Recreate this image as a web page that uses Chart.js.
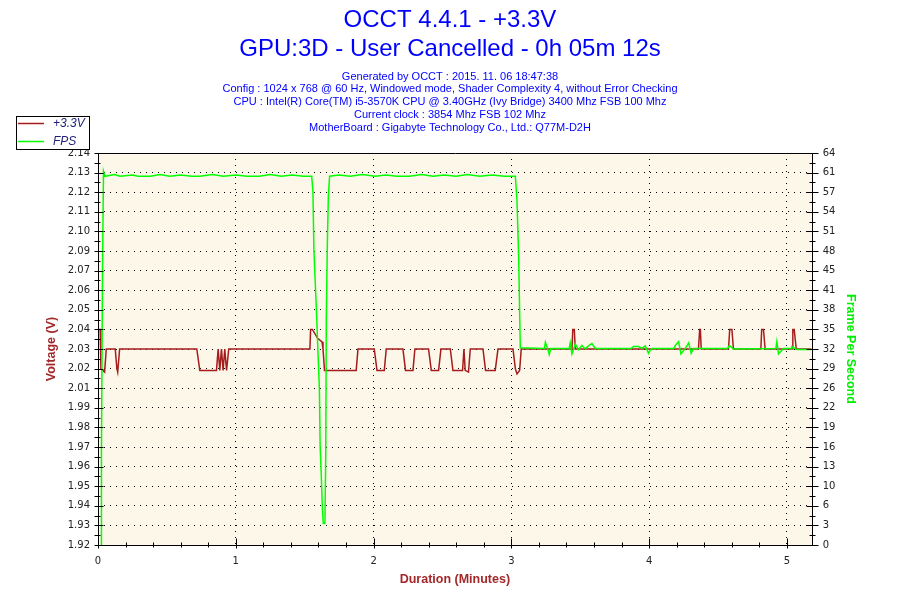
<!DOCTYPE html>
<html>
<head>
<meta charset="utf-8">
<title>OCCT 4.4.1 - +3.3V</title>
<script src="https://cdn.jsdelivr.net/npm/chart.js@4.4.1/dist/chart.umd.min.js"></script>
<style>
  html, body { margin: 0; padding: 0; background: #ffffff; }
  #wrap { width: 900px; height: 600px; }
</style>
</head>
<body>
<div id="wrap"><canvas id="myChart" width="900" height="600"></canvas></div>
<script>
// ---- chart text ----
var titleLines = ["OCCT 4.4.1 - +3.3V", "GPU:3D - User Cancelled - 0h 05m 12s"];
var infoLines = [
    "Generated by OCCT : 2015. 11. 06 18:47:38",
    "Config : 1024 x 768 @ 60 Hz, Windowed mode, Shader Complexity 4, without Error Checking",
    "CPU : Intel(R) Core(TM) i5-3570K CPU @ 3.40GHz (Ivy Bridge) 3400 Mhz FSB 100 Mhz",
    "Current clock : 3854 Mhz FSB 102 Mhz",
    "MotherBoard : Gigabyte Technology Co., Ltd.: Q77M-D2H"
];

// ---- tick labels (as printed by OCCT) ----
var minuteTicks = ["0", "1", "2", "3", "4", "5"];
var voltTicks = ["1.92", "1.93", "1.94", "1.95", "1.96", "1.97", "1.98", "1.99", "2.01", "2.02", "2.03",
                 "2.04", "2.05", "2.06", "2.07", "2.09", "2.10", "2.11", "2.12", "2.13", "2.14"];
var fpsTicks = ["0", "3", "6", "10", "13", "16", "19", "22", "26", "29", "32",
                "35", "38", "41", "45", "48", "51", "54", "57", "61", "64"];

// ---- +3.3V series (minutes / volts) ----
var voltMinutes = [0, 0.016, 0.021, 0.048, 0.060, 0.125, 0.137, 0.143, 0.157, 0.717,
                   0.739, 0.860, 0.872, 0.884, 0.896, 0.908, 0.920, 0.933, 0.949, 1.538,
                   1.543, 1.556, 1.594, 1.626, 1.633, 1.644, 1.874, 1.887, 2.005, 2.025,
                   2.078, 2.092, 2.213, 2.232, 2.286, 2.300, 2.399, 2.419, 2.472, 2.489,
                   2.557, 2.576, 2.646, 2.656, 2.665, 2.689, 2.702, 2.794, 2.813, 2.883,
                   2.903, 3.012, 3.029, 3.041, 3.060, 3.072, 3.440, 3.446, 3.457, 3.464,
                   4.358, 4.367, 4.372, 4.378, 4.576, 4.585, 4.601, 4.612, 4.811, 4.817,
                   4.830, 4.842, 5.038, 5.043, 5.053, 5.068, 5.18];
var voltage = [2.041, 2.041, 2.019, 2.017, 2.03, 2.03, 2.019, 2.017, 2.03, 2.03,
               2.018, 2.018, 2.03, 2.018, 2.03, 2.018, 2.03, 2.018, 2.03, 2.03,
               2.041, 2.041, 2.036, 2.034, 2.03, 2.018, 2.018, 2.03, 2.03, 2.018,
               2.018, 2.03, 2.03, 2.018, 2.018, 2.03, 2.03, 2.018, 2.018, 2.03,
               2.03, 2.018, 2.018, 2.03, 2.018, 2.017, 2.03, 2.03, 2.018, 2.018,
               2.03, 2.03, 2.019, 2.016, 2.018, 2.03, 2.03, 2.041, 2.041, 2.03,
               2.03, 2.041, 2.041, 2.03, 2.03, 2.041, 2.041, 2.03, 2.03, 2.041,
               2.041, 2.03, 2.03, 2.041, 2.041, 2.03, 2.03];

// ---- FPS series (minutes / frames per second) ----
var fpsMinutes = [0.022, 0.025, 0.033, 0.040, 0.050, 0.12, 0.16, 0.25, 0.29, 0.38,
                  0.45, 0.52, 0.60, 0.68, 0.74, 0.83, 0.91, 1.00, 1.08, 1.17,
                  1.25, 1.33, 1.41, 1.49, 1.551, 1.560, 1.567, 1.578, 1.587, 1.596,
                  1.607, 1.612, 1.620, 1.628, 1.635, 1.647, 1.653, 1.657, 1.665, 1.672,
                  1.681, 1.75, 1.83, 1.92, 2.01, 2.09, 2.17, 2.26, 2.35, 2.43,
                  2.51, 2.60, 2.68, 2.77, 2.86, 2.95, 3.029, 3.041, 3.053, 3.065,
                  3.240, 3.247, 3.263, 3.275, 3.287, 3.420, 3.427, 3.440, 3.464, 3.488,
                  3.512, 3.536, 3.560, 3.585, 3.609, 3.870, 3.887, 3.923, 3.948, 3.972,
                  3.996, 4.008, 4.020, 4.180, 4.190, 4.214, 4.231, 4.263, 4.287, 4.305,
                  4.322, 4.570, 4.583, 4.612, 4.920, 4.927, 4.939, 4.964, 4.975, 5.030,
                  5.036, 5.072, 5.18];
var fps = [0, 15, 46, 61, 60.2, 60.5, 60.2, 60.4, 60.2, 60.2,
           60.5, 60.2, 60.4, 60.2, 60.2, 60.5, 60.2, 60.4, 60.2, 60.2,
           60.5, 60.2, 60.4, 60.2, 60.2, 57.7, 48.2, 42.2, 37.3, 31.8,
           25.3, 16.3, 11.8, 6.2, 3.5, 3.5, 15, 37, 49.7, 57,
           60.2, 60.4, 60.2, 60.5, 60.2, 60.4, 60.2, 60.2, 60.5, 60.2,
           60.4, 60.2, 60.5, 60.2, 60.4, 60.2, 60.2, 56.3, 47.1, 32.2,
           32.1, 33.1, 32.1, 31.1, 32.1, 32.1, 33.0, 31.2, 32.8, 31.9,
           32.6, 32.0, 32.5, 32.9, 32.1, 32.1, 32.4, 32.4, 32.1, 32.5,
           31.3, 31.8, 32.1, 32.1, 32.6, 33.2, 31.2, 32.1, 33.0, 31.3,
           32.1, 32.1, 32.6, 32.0, 32.1, 33.2, 31.2, 31.8, 32.1, 32.1,
           32.4, 31.9, 31.9];

var voltColor = "#a41c1c";
var fpsColor = "#00ff00";
var axisRed = "#a3282a";

function toPoints(xs, ys) {
    var pts = [];
    for (var i = 0; i < xs.length; i++) {
        pts.push({ x: xs[i], y: ys[i] });
    }
    return pts;
}

// background, frame, minor ticks and the little legend box
var occtFrame = {
    id: "occtFrame",
    beforeDraw: function(chart) {
        var a = chart.chartArea;
        var ctx = chart.ctx;
        ctx.save();
        ctx.fillStyle = "#fdf7e9";
        ctx.fillRect(a.left, a.top, a.right - a.left, a.bottom - a.top);
        ctx.restore();
    },
    afterDraw: function(chart) {
        var ctx = chart.ctx;
        var a = chart.chartArea;
        var L = Math.round(a.left) + 0.5, R = Math.round(a.right) + 0.5;
        var T = Math.round(a.top) + 0.5, B = Math.round(a.bottom) + 0.5;
        ctx.save();
        ctx.strokeStyle = "#000";
        ctx.lineWidth = 1;
        ctx.beginPath();
        ctx.rect(L, T, R - L, B - T);

        // x ticks: major every minute, minor every 0.2
        var xs = chart.scales.x;
        for (var m = 0; m * 0.2 <= xs.max + 1e-9; m++) {
            var px = Math.round(xs.getPixelForValue(m * 0.2)) + 0.5;
            var major = m % 5 === 0;
            ctx.moveTo(px, B - (major ? 7 : 3));
            ctx.lineTo(px, B + (major ? 3 : 2));
        }
        // left axis, one minor between majors
        var yv = chart.scales.yVolt;
        for (var i = 0; i <= 40; i++) {
            var py = Math.round(yv.getPixelForValue(1.92 + i * 0.0055)) + 0.5;
            var maj = i % 2 === 0;
            ctx.moveTo(L - 4, py);
            ctx.lineTo(L + (maj ? 5 : 2), py);
        }
        // right axis
        var yf = chart.scales.yFps;
        for (var j = 0; j <= 40; j++) {
            var qy = Math.round(yf.getPixelForValue(j * 1.6)) + 0.5;
            var mj = j % 2 === 0;
            ctx.moveTo(R - (mj ? 6 : 3), qy);
            ctx.lineTo(R + (mj ? 6 : 3), qy);
        }
        ctx.stroke();

        // legend
        ctx.fillStyle = "#fff";
        ctx.fillRect(16.5, 116.5, 73, 33);
        ctx.strokeRect(16.5, 116.5, 73, 33);
        ctx.font = "italic 12px 'Liberation Sans'";
        ctx.textBaseline = "middle";
        ctx.lineWidth = 1.5;
        var rows = [123.5, 141.5];
        chart.data.datasets.forEach(function(ds, k) {
            ctx.strokeStyle = ds.borderColor;
            ctx.beginPath();
            ctx.moveTo(18, rows[k]);
            ctx.lineTo(44, rows[k]);
            ctx.stroke();
            ctx.fillStyle = "#1f1f7a";
            ctx.fillText(ds.label, 53, rows[k]);
        });
        ctx.restore();
    }
};

var tickFont = { family: "'DejaVu Sans'", size: 10 };
var axisTitleFont = { family: "'Liberation Sans'", size: 12.5, weight: "bold" };

var ctx = document.getElementById("myChart");
var myChart = new Chart(ctx, {
    type: "line",
    data: {
        datasets: [{
            label: "+3.3V",
            data: toPoints(voltMinutes, voltage),
            yAxisID: "yVolt",
            borderColor: voltColor,
            borderWidth: 1.5,
            pointRadius: 0,
            tension: 0,
            order: 1
        }, {
            label: "FPS",
            data: toPoints(fpsMinutes, fps),
            yAxisID: "yFps",
            borderColor: fpsColor,
            borderWidth: 1.5,
            pointRadius: 0,
            tension: 0,
            order: 0
        }]
    },
    options: {
        responsive: false,
        animation: false,
        layout: { padding: 0, autoPadding: false },
        plugins: {
            legend: { display: false },
            tooltip: { enabled: false },
            title: {
                display: true,
                text: titleLines,
                color: "#0000ff",
                font: { family: "'Liberation Sans'", size: 24, weight: "normal", lineHeight: 1.2 },
                padding: { top: 5.8, bottom: 0 }
            },
            subtitle: {
                display: true,
                text: infoLines,
                color: "#0000ff",
                font: { family: "'Liberation Sans'", size: 11, weight: "normal", lineHeight: 1.17 },
                padding: { top: 6.7, bottom: 18.55 }
            }
        },
        scales: {
            x: {
                type: "linear",
                position: "bottom",
                min: 0,
                max: 5.18,
                afterBuildTicks: function(scale) {
                    scale.ticks = minuteTicks.map(function(t) { return { value: Number(t) }; });
                },
                afterFit: function(scale) { scale.height = 55; },
                ticks: {
                    autoSkip: false,
                    maxRotation: 0,
                    padding: 10,
                    color: "#222",
                    font: tickFont,
                    callback: function(v, i) { return minuteTicks[i]; }
                },
                grid: { color: "#000", lineWidth: 1, drawTicks: false },
                border: { display: false, dash: [1, 5] },
                title: {
                    display: true,
                    text: "Duration (Minutes)",
                    color: axisRed,
                    font: axisTitleFont,
                    padding: { top: 0, bottom: 12.5 }
                }
            },
            yVolt: {
                type: "linear",
                position: "left",
                min: 1.92,
                max: 2.14,
                afterBuildTicks: function(scale) {
                    scale.ticks = voltTicks.map(function(t, i) { return { value: 1.92 + i * 0.011 }; });
                },
                afterFit: function(scale) { scale.width = 98; },
                ticks: {
                    autoSkip: false,
                    padding: 8,
                    color: "#222",
                    font: tickFont,
                    callback: function(v, i) { return voltTicks[i]; }
                },
                grid: { color: "#000", lineWidth: 1, drawTicks: false },
                border: { display: false, dash: [1, 5] },
                title: {
                    display: true,
                    text: "Voltage (V)",
                    color: axisRed,
                    font: axisTitleFont,
                    padding: { top: 44, bottom: 0 }
                }
            },
            yFps: {
                type: "linear",
                position: "right",
                min: 0,
                max: 64,
                afterBuildTicks: function(scale) {
                    scale.ticks = fpsTicks.map(function(t, i) { return { value: i * 3.2 }; });
                },
                afterFit: function(scale) { scale.width = 88.3; },
                ticks: {
                    autoSkip: false,
                    padding: 11,
                    color: "#222",
                    font: tickFont,
                    callback: function(v, i) { return fpsTicks[i]; }
                },
                grid: { drawOnChartArea: false, drawTicks: false },
                border: { display: false },
                title: {
                    display: true,
                    text: "Frame Per Second",
                    color: "#00ee00",
                    font: axisTitleFont,
                    padding: { top: 42, bottom: 0 }
                }
            }
        }
    },
    plugins: [occtFrame]
});
</script>
</body>
</html>
